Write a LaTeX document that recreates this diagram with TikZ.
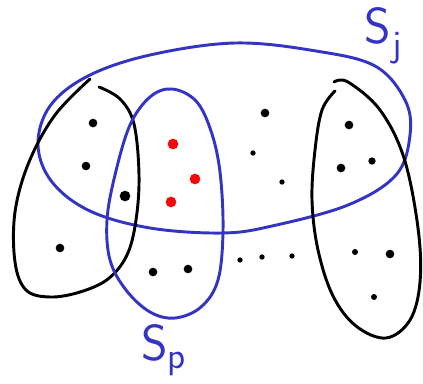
\documentclass[tikz,border=0pt]{standalone}
\usetikzlibrary{calc}
\definecolor{penblue}{RGB}{52,52,196}
\definecolor{penred}{RGB}{240,10,10}
\tikzset{
  blueline/.style={draw=penblue,line width=2.2pt,line cap=round,line join=round},
  blackline/.style={draw=black,line width=2.2pt,line cap=round,line join=round},
  pt/.style={circle,fill=black,inner sep=0pt,minimum size=#1},
  pt/.default=6.5pt,
  rpt/.style={circle,fill=penred,inner sep=0pt,minimum size=8pt},
  lbl/.style={text=penblue,font=\sffamily\fontsize{38}{42}\selectfont,inner sep=0pt,anchor=base west}
}
\begin{document}
\begin{tikzpicture}[x=0.75pt,y=-0.75pt]
\useasboundingbox (0,0) rectangle (423,383);
% big blue ellipse S_j
\draw[blueline] plot[smooth cycle,tension=0.6] coordinates {
 (235,43) (316,51) (375,66) (405,100) (410,135) (396,175) (348,205) (272,226)
 (222,233) (150,228) (90,211) (52,182) (38,145) (50,106) (88,76) (150,55)};
% left black blob (open at top)
\draw[blackline] plot[smooth,tension=0.6] coordinates {
 (99,87) (120,99) (134,124) (139,175) (136,220) (127,255) (108,279) (80,292)
 (50,297) (26,290) (15,262) (15,212) (29,162) (55,115) (90,79)};
% S_p
\draw[blueline] plot[smooth cycle,tension=0.6] coordinates {
 (172,89) (196,101) (211,131) (220,172) (223,230) (218,280) (201,307) (175,318)
 (150,312) (126,290) (110,260) (107,220) (115,175) (130,125) (150,97)};
% right black blob (open at top)
\draw[blackline] plot[smooth,tension=0.6] coordinates {
 (334,82) (348,82) (380,110) (404,158) (418,228) (420,282) (410,320) (386,338)
 (356,326) (333,296) (318,250) (312,200) (315,150) (322,110) (335,91)};
% black points
\node[pt] (b1) at (93,123) {};
\node[pt] (b2) at (86,166) {};
\node[pt=8pt] (b3) at (125,196) {};
\node[pt] (b4) at (60,248) {};
\node[pt] (b5) at (153,272) {};
\node[pt] (b6) at (188,269) {};
\node[pt] (b7) at (265,113) {};
\node[pt=4pt] (b8) at (253,153) {};
\node[pt=4pt] (b9) at (282,182) {};
\node[pt] (b10) at (349,125) {};
\node[pt] (b11) at (341,168) {};
\node[pt=5.5pt] (b12) at (372,161) {};
\node[pt=4.5pt] (b13) at (355,252) {};
\node[pt] (b14) at (390,254) {};
\node[pt=4.5pt] (b15) at (374,297) {};
\node[pt=4pt] (d1) at (240,260) {};
\node[pt=4pt] (d2) at (262,257) {};
\node[pt=4pt] (d3) at (292,256) {};
% red points
\node[rpt] (r1) at (173,144) {};
\node[rpt] (r2) at (195,179) {};
\node[rpt] (r3) at (171,202) {};
% labels
\node[lbl] (sj) at (364,43) {S\kern1pt\raisebox{-0.6ex}{\fontsize{28}{30}\selectfont j}};
\node[lbl] (sp) at (141,360) {S\raisebox{-0.4ex}{\fontsize{28}{30}\selectfont p}};
\end{tikzpicture}
\end{document}
